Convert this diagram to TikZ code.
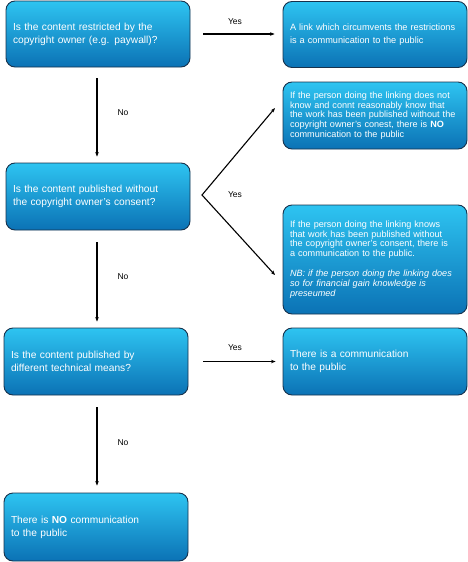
\documentclass[tikz,border=0pt]{standalone}
\usepackage{fontspec}
\setmainfont{Liberation Sans}
\usetikzlibrary{arrows.meta}
\definecolor{boxtop}{HTML}{2EC4F1}
\definecolor{boxbottom}{HTML}{0B72B5}
\definecolor{boxline}{HTML}{17324D}
\hyphenpenalty=10000

\begin{document}
\begin{tikzpicture}[x=1pt,y=-1pt]
	\tikzset{box/.style = {draw=boxline, line width=0.9pt, rounded corners=9pt,
	    top color=boxtop, bottom color=boxbottom, text=white, align=left,
	    text width=170pt, inner xsep=7pt, minimum height=66pt,
	    font=\fontsize{10.2}{13}\selectfont}}
	\tikzset{smallbox/.style = {box, font=\fontsize{9.1}{9.6}\selectfont}}
	\tikzset{edge/.style={line width=1.1pt, -{Stealth[length=4.5pt,width=3.5pt]}}}
	\tikzset{answer/.style={font=\fontsize{8.5}{9}\selectfont}}
	\useasboundingbox (0,0) rectangle (468,562);

	% vertices
	\node[box] (q1) at (98,34) {Is the content restricted by the\\copyright owner (e.g. paywall)?};
	\node[box, font=\fontsize{9.2}{13}\selectfont] (a1) at (375,34.5) {A link which circumvents the restrictions\\is a communication to the public};
	\node[smallbox, minimum height=67pt] (a2) at (375,115.5) {If the person doing the linking does not\\know and connt reasonably know that\\the work has been published without the\\copyright owner's conest, there is \textbf{NO}\\communication to the public};
	\node[smallbox, minimum height=109pt] (a3) at (375,259.5) {If the person doing the linking knows\\that work has been published without\\the copyright owner's consent, there is\\a communication to the public.\\[11pt]\itshape NB: if the person doing the linking does\\so for financial gain knowledge is\\preseumed};
	\node[box, minimum height=67pt] (q2) at (98,196.5) {Is the content published without\\the copyright owner's consent?};
	\node[box, minimum height=67pt] (q3) at (96,361.5) {Is the content published by\\different technical means?};
	\node[box, minimum height=67pt] (a4) at (375,361.5) {There is a communication\\to the public};
	\node[box, minimum height=68pt] (a5) at (96,527) {There is \textbf{NO} communication\\to the public};

	\coordinate (fork) at (202,195);
	\coordinate (up) at (275,108);
	\coordinate (down) at (275,275);

	% edges
	\draw[edge, shorten <=13pt, shorten >=8pt] (q1.east) -- (a1.west |- q1.east);
	\draw[edge, shorten <=11pt, shorten >=6pt] (q1.south -| 97,0) -- (q2.north -| 97,0);
	\draw[edge, {Stealth[length=4.5pt,width=3.5pt]}-{Stealth[length=4.5pt,width=3.5pt]}] (up) -- (fork) -- (down);
	\draw[edge, shorten <=12pt, shorten >=6pt] (q2.south -| 97,0) -- (q3.north -| 97,0);
	\draw[edge, shorten <=15pt, shorten >=7pt] (q3.east) -- (a4.west);
	\draw[edge, shorten <=12pt, shorten >=7pt] (q3.south -| 97,0) -- (a5.north -| 97,0);

	% labels
	\node[answer] (yes1) at (235,22) {Yes};
	\node[answer] (yes2) at (235,195) {Yes};
	\node[answer] (yes3) at (235,348) {Yes};
	\node[answer] (no1) at (123,113) {No};
	\node[answer] (no2) at (123,277) {No};
	\node[answer] (no3) at (123,443) {No};
\end{tikzpicture}
\end{document}
